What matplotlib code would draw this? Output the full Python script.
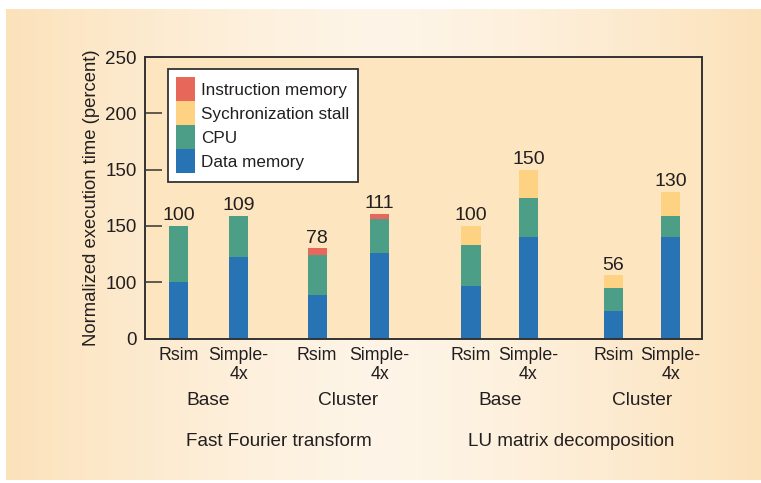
import numpy as np
import matplotlib
matplotlib.use('Agg')
import matplotlib.pyplot as plt
from matplotlib.patches import Patch

plt.rcParams['font.family'] = ['Liberation Sans', 'DejaVu Sans']

# data (in the chart's own units)
bar_labels = ['Rsim', 'Simple-\n4x', 'Rsim', 'Simple-\n4x',
              'Rsim', 'Simple-\n4x', 'Rsim', 'Simple-\n4x']
groups = ['Base', 'Cluster', 'Base', 'Cluster']
workloads = ['Fast Fourier transform', 'LU matrix decomposition']
data_memory = [50, 72, 39, 76, 47, 90, 24, 90]
cpu = [50, 37, 35, 30, 36, 35, 21, 19]
sync_stall = [0, 0, 0, 0, 17, 25, 11, 21]
instr_memory = [0, 0, 6, 5, 0, 0, 0, 0]
totals = ['100', '109', '78', '111', '100', '150', '56', '130']
ytick_labels = ['0', '100', '150', '150', '200', '250']

colors = {'Instruction memory': '#E8675B', 'Sychronization stall': '#FDD282',
          'CPU': '#4C9E86', 'Data memory': '#2873B4'}
ink = '#231f20'

# layout
xpos = np.array([0, 1, 2.31, 3.35, 4.875, 5.83, 7.25, 8.2])
width = 0.32

fig = plt.figure(figsize=(7.61, 4.83), dpi=100)

# gradient background panel
bg = fig.add_axes([6 / 761, 3 / 483, 755 / 761, 471 / 483], zorder=-1)
t = np.linspace(-1, 1, 256)
w = np.abs(t) ** 1.3
c_edge = np.array([252, 226, 187]) / 255
c_mid = np.array([254, 245, 232]) / 255
grad = c_mid[None, :] * (1 - w[:, None]) + c_edge[None, :] * w[:, None]
bg.imshow(grad[None, :, :], aspect='auto', extent=[0, 1, 0, 1])
bg.axis('off')

ax = fig.add_axes([145 / 761, 144.5 / 483, 557 / 761, 281.5 / 483])
ax.set_facecolor('#FDE5BF')

bottom = np.zeros(len(xpos))
for name, vals in [('Data memory', data_memory), ('CPU', cpu),
                   ('Sychronization stall', sync_stall),
                   ('Instruction memory', instr_memory)]:
    vals = np.array(vals, dtype=float)
    ax.bar(xpos, vals, width, bottom=bottom, color=colors[name], linewidth=0)
    bottom += vals

for x, top, lab in zip(xpos, bottom, totals):
    ax.text(x, top + 1.5, lab, ha='center', va='bottom', fontsize=14, color=ink)

ax.set_xlim(-0.56, 8.725)
ax.set_ylim(0, 250)
ax.set_yticks(np.arange(0, 251, 50), labels=ytick_labels)
ax.set_xticks(xpos, labels=bar_labels)
ax.tick_params(axis='y', direction='in', length=12, width=1.1, color='#333333',
               labelsize=13.5, pad=6, labelcolor=ink)
ax.tick_params(axis='x', length=0, labelsize=12.8, pad=6, labelcolor=ink)
for lbl in ax.get_xticklabels():
    lbl.set_multialignment('center')
for sp in ax.spines.values():
    sp.set_color('#333333')
    sp.set_linewidth(1.4)

ax.set_ylabel('Normalized execution time (percent)', fontsize=13.3,
               color=ink, labelpad=4)

trans = ax.get_xaxis_transform()
for i, g in enumerate(groups):
    ax.text(xpos[2 * i:2 * i + 2].mean(), -0.222, g, transform=trans,
            ha='center', va='center', fontsize=13.8, color=ink)
for i, wl in enumerate(workloads):
    ax.text(xpos[4 * i:4 * i + 4].mean(), -0.365, wl, transform=trans,
            ha='center', va='center', fontsize=13.6, color=ink)

handles = [Patch(facecolor=colors[n], edgecolor='none', label=n)
           for n in ['Instruction memory', 'Sychronization stall', 'CPU', 'Data memory']]
leg = ax.legend(handles=handles, loc='upper left', bbox_to_anchor=(0.041, 0.958),
                borderaxespad=0, fontsize=12.3, handlelength=1.1, handleheight=1.78,
                labelspacing=0, handletextpad=0.35, borderpad=0.5,
                fancybox=False, framealpha=1, edgecolor='#333333')
leg.get_frame().set_linewidth(1.3)
for txt in leg.get_texts():
    txt.set_color(ink)

fig.savefig('out.png', dpi=100)
